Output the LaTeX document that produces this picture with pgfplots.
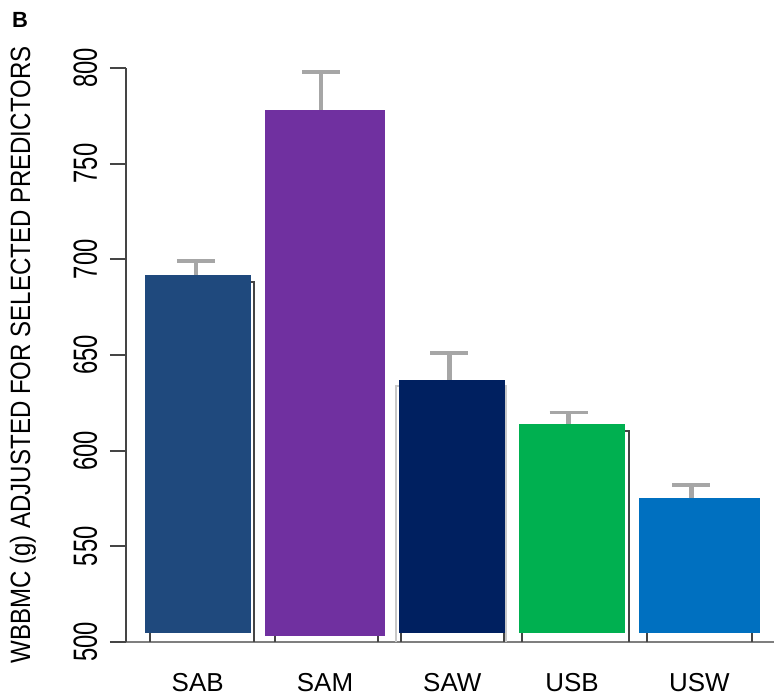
\documentclass[border=0pt]{standalone}
\usepackage{pgfplots}
\pgfplotsset{compat=1.18}
\usepackage{fontspec}
\setmainfont{Liberation Sans}

\definecolor{cSAB}{HTML}{1F497D}
\definecolor{cSAM}{HTML}{7030A0}
\definecolor{cSAW}{HTML}{002060}
\definecolor{cUSB}{HTML}{00B050}
\definecolor{cUSW}{HTML}{0070C0}
\definecolor{errgray}{HTML}{A6A6A6}
\definecolor{axisdark}{HTML}{454545}
\definecolor{axislight}{HTML}{7F7F7F}
\definecolor{shadowlight}{HTML}{C8C8C8}

% narrow setting for the upright-running labels
\newcommand{\nar}[1]{\scalebox{0.71}[1]{#1}}

\begin{document}
\begin{tikzpicture}
\begin{axis}[
  scale only axis,
  width=324.5pt, height=287.5pt,
  xmin=0.4263, xmax=5.5976,
  ymin=500, ymax=800,
  clip=false,
  axis lines*=left,
  x axis line style={-, draw=axislight, line width=1.2pt},
  y axis line style={-, draw=axisdark, line width=1.1pt},
  tick align=outside,
  major tick length=8pt,
  ytick={500,550,...,800},
  yticklabels={\nar{500},\nar{550},\nar{600},\nar{650},\nar{700},\nar{750},\nar{800}},
  ytick style={draw=axisdark, line width=1pt},
  yticklabel style={font=\fontsize{16.8}{18}\selectfont, xshift=-6.5pt, rotate=90, anchor=base},
  xtick={1,2.016,3.032,3.988,5.004},
  xticklabels={SAB,SAM,SAW,USB,USW},
  xtick style={draw=none},
  xticklabel style={font=\fontsize{13}{15}\selectfont, anchor=base, yshift=-17pt},
  ylabel={\scalebox{0.86}[1]{WBBMC (g) ADJUSTED FOR SELECTED PREDICTORS}},
  ylabel style={at={(rel axis cs:-0.1587,0.5)}, rotate=0, anchor=center,
                font=\fontsize{14}{16}\selectfont},
]

% drop shadows behind three of the bars
\addplot[draw=axisdark, line width=1pt] coordinates
  {(1.40,688.3) (1.446,688.3) (1.446,500)};
\addplot[draw=shadowlight, line width=1pt] coordinates
  {(2.586,500) (2.586,633.6) (3.462,633.6) (3.462,500)};
\addplot[draw=axisdark, line width=1pt] coordinates
  {(4.40,610.1) (4.442,610.1) (4.442,500)};

% short feet under the bar edges
\addplot[draw=axisdark, line width=1pt, unbounded coords=jump] coordinates {
  (0.6175,500) (0.6175,504.5) (nan,nan)
  (1.6135,500) (1.6135,503) (nan,nan)
  (2.4422,500) (2.4422,503) (nan,nan)
  (2.6255,500) (2.6255,504.5) (nan,nan)
  (3.4462,500) (3.4462,504.5) (nan,nan)
  (3.5896,500) (3.5896,504.5) (nan,nan)
  (4.5857,500) (4.5857,504.5) (nan,nan)
  (5.4223,500) (5.4223,504.5)
};

% bars: mean WBBMC per group
\addplot[fill=cSAB, draw=none] coordinates
  {(0.5777,504.5) (0.5777,692) (1.4223,692) (1.4223,504.5)} --cycle;
\addplot[fill=cSAM, draw=none] coordinates
  {(1.5339,503) (1.5339,778) (2.4980,778) (2.4980,503)} --cycle;
\addplot[fill=cSAW, draw=none] coordinates
  {(2.6096,504.5) (2.6096,637) (3.4542,637) (3.4542,504.5)} --cycle;
\addplot[fill=cUSB, draw=none] coordinates
  {(3.5657,504.5) (3.5657,614) (4.4104,614) (4.4104,504.5)} --cycle;
\addplot[fill=cUSW, draw=none] coordinates
  {(4.5219,504.5) (4.5219,575) (5.4861,575) (5.4861,504.5)} --cycle;

% upper error bars
\addplot[draw=none, mark=none,
  error bars/.cd, y dir=plus, y explicit,
  error bar style={errgray, line width=2.2pt},
  error mark options={errgray, line width=1.8pt, mark size=9.5pt, rotate=90}]
  coordinates {
    (0.986,692) +- (0,7)
    (1.984,778) +- (0,20)
    (3.008,637) +- (0,14)
    (3.960,614) +- (0,6)
    (4.940,575) +- (0,7)
  };

\node[font=\bfseries\fontsize{11}{13}\selectfont] at (rel axis cs:-0.1633,1.0835) {B};

% page frame
\path (axis cs:-0.5777,471.83) rectangle (axis cs:5.5976,835.48);
\end{axis}
\end{tikzpicture}
\end{document}
